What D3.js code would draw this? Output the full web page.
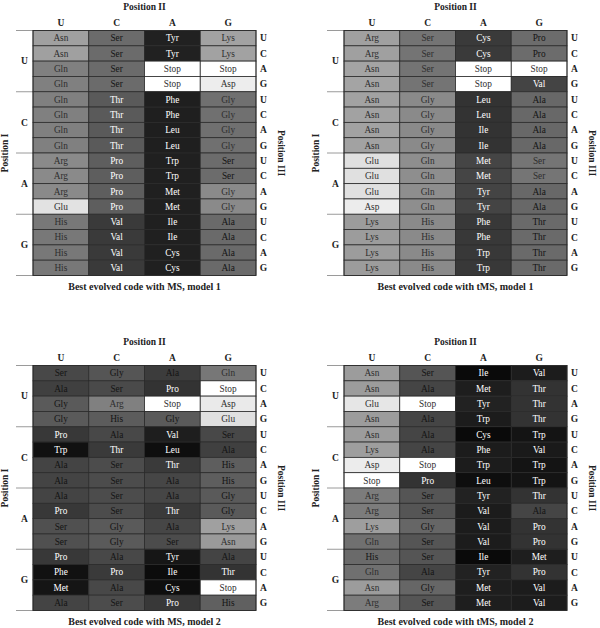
<!DOCTYPE html>
<html>
<head>
<meta charset="utf-8">
<script src="https://cdn.jsdelivr.net/npm/d3@7"></script>
<style>
  html, body { margin: 0; padding: 0; background: #fff; }
  svg { display: block; }
</style>
</head>
<body>
<svg id="chart" width="600" height="628" font-family="'Liberation Serif', 'Times New Roman', 'DejaVu Serif', serif"></svg>
<script>
// ---------- DATA ----------
const bases = ["U", "C", "A", "G"];
const axisTitleTop = "Position II";
const axisTitleLeft = "Position I";
const axisTitleRight = "Position III";

const titles = [
  "Best evolved code with MS, model 1",
  "Best evolved code with tMS, model 1",
  "Best evolved code with MS, model 2",
  "Best evolved code with tMS, model 2"
];

// amino acids: 16 rows (Position I x Position III), 4 columns (Position II)
const aaMS1 = [
  ["Asn","Ser","Tyr","Lys"],["Asn","Ser","Tyr","Lys"],["Gln","Ser","Stop","Stop"],["Gln","Ser","Stop","Asp"],
  ["Gln","Thr","Phe","Gly"],["Gln","Thr","Phe","Gly"],["Gln","Thr","Leu","Gly"],["Gln","Thr","Leu","Gly"],
  ["Arg","Pro","Trp","Ser"],["Arg","Pro","Trp","Ser"],["Arg","Pro","Met","Gly"],["Glu","Pro","Met","Gly"],
  ["His","Val","Ile","Ala"],["His","Val","Ile","Ala"],["His","Val","Cys","Ala"],["His","Val","Cys","Ala"]
];
const aaTMS1 = [
  ["Arg","Ser","Cys","Pro"],["Arg","Ser","Cys","Pro"],["Asn","Ser","Stop","Stop"],["Asn","Ser","Stop","Val"],
  ["Asn","Gly","Leu","Ala"],["Asn","Gly","Leu","Ala"],["Asn","Gly","Ile","Ala"],["Asn","Gly","Ile","Ala"],
  ["Glu","Gln","Met","Ser"],["Glu","Gln","Met","Ser"],["Glu","Gln","Tyr","Ala"],["Asp","Gln","Tyr","Ala"],
  ["Lys","His","Phe","Thr"],["Lys","His","Phe","Thr"],["Lys","His","Trp","Thr"],["Lys","His","Trp","Thr"]
];
const aaMS2 = [
  ["Ser","Gly","Ala","Gln"],["Ala","Ser","Pro","Stop"],["Gly","Arg","Stop","Asp"],["Gly","His","Gly","Glu"],
  ["Pro","Ala","Val","Ser"],["Trp","Thr","Leu","Ala"],["Ala","Ser","Thr","His"],["Ala","Ser","Ala","His"],
  ["Ala","Ser","Ala","Gly"],["Pro","Ser","Thr","Gly"],["Ser","Gly","Ala","Lys"],["Ser","Gly","Ser","Asn"],
  ["Pro","Ala","Tyr","Ala"],["Phe","Pro","Ile","Thr"],["Met","Ala","Cys","Stop"],["Ala","Ser","Pro","His"]
];
const aaTMS2 = [
  ["Asn","Ser","Ile","Val"],["Asn","Ala","Met","Thr"],["Glu","Stop","Tyr","Thr"],["Asn","Ala","Trp","Thr"],
  ["Asn","Ala","Cys","Trp"],["Lys","Ala","Phe","Val"],["Asp","Stop","Trp","Trp"],["Stop","Pro","Leu","Trp"],
  ["Arg","Ser","Tyr","Thr"],["Arg","Ser","Val","Ala"],["Lys","Gly","Val","Pro"],["Gln","Ser","Val","Pro"],
  ["His","Ser","Ile","Met"],["Gln","Ala","Tyr","Pro"],["Asn","Gly","Met","Val"],["Arg","Ser","Met","Val"]
];

// cell lightness values (0 = black, 255 = white)
const shadeMS1 = [
  [160,107,33,162],[160,107,33,162],[128,107,255,255],[128,107,255,237],
  [128,90,31,112],[128,90,31,112],[128,90,31,112],[128,90,31,112],
  [138,94,32,108],[138,94,32,108],[138,94,32,138],[226,94,32,138],
  [120,58,32,106],[120,58,32,106],[120,58,32,106],[120,58,32,106]
];
const shadeTMS1 = [
  [160,116,58,108],[160,116,58,108],[164,116,255,255],[164,116,255,68],
  [162,138,51,104],[162,138,51,104],[162,138,51,104],[162,138,51,104],
  [224,142,69,117],[224,142,69,117],[224,142,68,104],[236,142,68,104],
  [156,138,56,106],[156,138,56,106],[156,138,56,106],[156,138,56,106]
];
const shadeMS2 = [
  [72,85,60,119],[64,74,51,255],[90,128,255,234],[90,92,90,224],
  [56,72,30,72],[17,58,14,64],[68,76,58,94],[68,76,70,94],
  [68,76,70,90],[56,76,58,90],[80,90,70,160],[80,90,76,154],
  [56,72,22,68],[17,58,12,51],[21,72,14,255],[68,76,56,96]
];
const shadeTMS2 = [
  [156,85,10,28],[156,69,30,51],[230,255,34,51],[156,69,28,51],
  [156,69,10,20],[158,69,28,26],[236,255,28,20],[255,51,14,20],
  [124,85,34,51],[124,85,28,69],[158,102,28,51],[112,85,28,51],
  [106,85,10,30],[112,69,34,51],[156,102,30,28],[124,85,30,28]
];

// amino acids printed in white in each panel
const whiteLabelsMS1 = ["Tyr","Phe","Leu","Trp","Met","Ile","Cys","Val","Pro","Thr"];
const whiteLabelsTMS1 = ["Tyr","Phe","Leu","Trp","Met","Ile","Cys","Val"];
const whiteLabelsMS2 = ["Tyr","Phe","Leu","Trp","Met","Ile","Cys","Val","Pro","Thr"];
const whiteLabelsTMS2 = ["Tyr","Phe","Leu","Trp","Met","Ile","Cys","Val","Pro","Thr"];

// ---------- LAYOUT ----------
const panels = [
  { aa: aaMS1,  shade: shadeMS1,  white: whiteLabelsMS1,  title: titles[0], x0: 33,  y0: 30.5 },
  { aa: aaTMS1, shade: shadeTMS1, white: whiteLabelsTMS1, title: titles[1], x0: 344, y0: 30.5 },
  { aa: aaMS2,  shade: shadeMS2,  white: whiteLabelsMS2,  title: titles[2], x0: 33,  y0: 365.5 },
  { aa: aaTMS2, shade: shadeTMS2, white: whiteLabelsTMS2, title: titles[3], x0: 344, y0: 365.5 }
];
const gridW = 223, gridH = 245;

const color = d3.scaleLinear().domain([0, 255]).range(["#000000", "#ffffff"]);

const svg = d3.select("#chart");

// row keys: Position I x Position III
const rowKeys = [];
bases.forEach(b1 => bases.forEach(b3 => rowKeys.push(b1 + b3)));

panels.forEach(p => {
  const g = svg.append("g").attr("transform", `translate(${p.x0},${p.y0})`);
  const x = d3.scaleBand().domain(bases).range([0, gridW]);
  const y = d3.scaleBand().domain(rowKeys).range([0, gridH]);
  const yGroup = d3.scaleBand().domain(bases).range([0, gridH]);

  const cells = [];
  p.aa.forEach((row, i) => row.forEach((a, j) => {
    cells.push({ row: rowKeys[i], col: bases[j], aa: a, v: p.shade[i][j] });
  }));

  // group separator lines on the left
  g.selectAll("line.sep").data(d3.range(bases.length + 1)).join("line")
    .attr("class", "sep")
    .attr("x1", -17).attr("x2", 0)
    .attr("y1", d => d * yGroup.bandwidth()).attr("y2", d => d * yGroup.bandwidth())
    .attr("stroke", "#9a9a9a").attr("stroke-width", 1);

  // cells
  g.selectAll("rect.cell").data(cells).join("rect")
    .attr("class", "cell")
    .attr("x", d => x(d.col)).attr("y", d => y(d.row))
    .attr("width", x.bandwidth()).attr("height", y.bandwidth())
    .attr("fill", d => color(d.v))
    .attr("stroke", "#2b2b2b").attr("stroke-width", 0.8);

  // labels
  g.selectAll("text.lab").data(cells).join("text")
    .attr("class", "lab")
    .attr("x", d => x(d.col) + x.bandwidth() / 2)
    .attr("y", d => y(d.row) + y.bandwidth() / 2)
    .attr("dy", "0.35em")
    .attr("text-anchor", "middle")
    .attr("font-size", 9.3)
    .attr("fill", d => p.white.includes(d.aa) ? "#ffffff" : (d.v < 110 ? "#141414" : "#2e2e2e"))
    .text(d => d.aa);

  // outer frame
  g.append("rect").attr("x", 0).attr("y", 0).attr("width", gridW).attr("height", gridH)
    .attr("fill", "none").attr("stroke", "#2b2b2b").attr("stroke-width", 0.8);

  // top: Position II
  g.append("text").attr("x", gridW / 2).attr("y", -20.5)
    .attr("text-anchor", "middle").attr("font-size", 9.5).attr("font-weight", "bold")
    .attr("fill", "#222").text(axisTitleTop);
  g.selectAll("text.colh").data(bases).join("text")
    .attr("class", "colh")
    .attr("x", d => x(d) + x.bandwidth() / 2).attr("y", -5)
    .attr("text-anchor", "middle").attr("font-size", 9.5).attr("font-weight", "bold")
    .attr("fill", "#222").text(d => d);

  // left: Position I
  g.selectAll("text.grp").data(bases).join("text")
    .attr("class", "grp")
    .attr("x", -8.5).attr("y", d => yGroup(d) + yGroup.bandwidth() / 2)
    .attr("dy", "0.35em")
    .attr("text-anchor", "middle").attr("font-size", 9.5).attr("font-weight", "bold")
    .attr("fill", "#222").text(d => d);
  g.append("text")
    .attr("transform", `translate(${-25},${gridH / 2}) rotate(-90)`)
    .attr("text-anchor", "middle").attr("font-size", 9.5).attr("font-weight", "bold")
    .attr("fill", "#222").text(axisTitleLeft);

  // right: Position III
  g.selectAll("text.rowh").data(rowKeys).join("text")
    .attr("class", "rowh")
    .attr("x", gridW + 7.5).attr("y", d => y(d) + y.bandwidth() / 2)
    .attr("dy", "0.35em")
    .attr("text-anchor", "middle").attr("font-size", 9.5).attr("font-weight", "bold")
    .attr("fill", "#222").text(d => d[1]);
  g.append("text")
    .attr("transform", `translate(${gridW + 22},${gridH / 2}) rotate(90)`)
    .attr("text-anchor", "middle").attr("font-size", 9.5).attr("font-weight", "bold")
    .attr("fill", "#222").text(axisTitleRight);

  // caption
  g.append("text").attr("x", gridW / 2).attr("y", gridH + 14.5)
    .attr("text-anchor", "middle").attr("font-size", 10).attr("font-weight", "bold")
    .attr("fill", "#222").text(p.title);
});
</script>
</body>
</html>
